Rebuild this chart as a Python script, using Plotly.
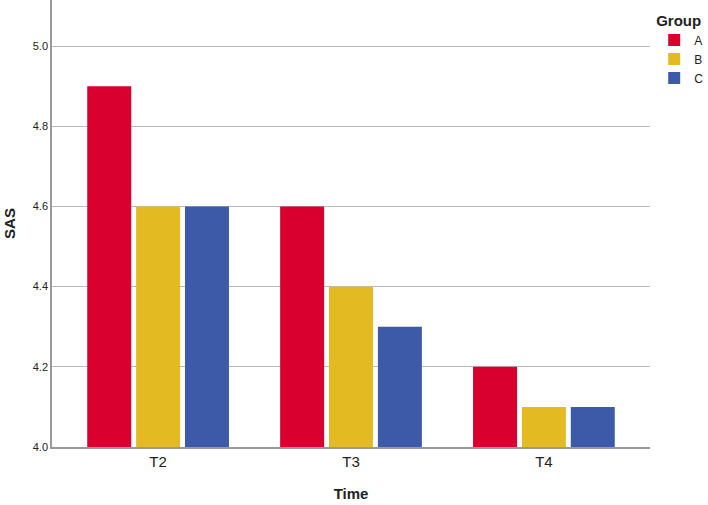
import plotly.graph_objects as go

times = ["T2", "T3", "T4"]
groups = ["A", "B", "C"]
values_a = [4.9, 4.6, 4.2]
values_b = [4.6, 4.4, 4.1]
values_c = [4.6, 4.3, 4.1]
colors = ["#D9002F", "#E3BA22", "#3D5AA9"]
y_ticks = [4.0, 4.2, 4.4, 4.6, 4.8, 5.0]

fig = go.Figure()
for name, vals, col in zip(groups, [values_a, values_b, values_c], colors):
    fig.add_trace(go.Bar(x=times, y=vals, name=name, marker=dict(color=col, line=dict(width=0))))

fig.update_layout(
    width=708, height=505,
    margin=dict(l=52, r=58, t=0, b=58),
    paper_bgcolor="white", plot_bgcolor="white",
    barmode="group", bargap=0.24, bargroupgap=0.1,
    font=dict(family="Arial, Liberation Sans, sans-serif", color="#222"),
    legend=dict(
        title=dict(text="<b>Group</b>", font=dict(size=15, color="#222")),
        xref="container", yref="container",
        x=0.924, xanchor="left", y=0.988, yanchor="top",
        font=dict(size=12), itemwidth=30, tracegroupgap=0,
        bgcolor="rgba(0,0,0,0)",
    ),
    xaxis=dict(
        range=[-0.55, 2.55],
        showline=True, linecolor="#999", linewidth=1.5,
        ticks="", tickfont=dict(size=15),
        title=dict(text="<b>Time</b>", font=dict(size=15), standoff=20),
        showgrid=False,
    ),
    yaxis=dict(
        range=[4.0, 5.115],
        tickvals=y_ticks, ticktext=[f"{v:.1f}" for v in y_ticks],
        showline=True, linecolor="#999", linewidth=1.5,
        showgrid=True, gridcolor="#BBBBBB", gridwidth=1,
        ticks="", tickfont=dict(size=11),
        title=dict(text="<b>SAS</b>", font=dict(size=15), standoff=14),
        zeroline=False,
    ),
)

fig.write_html(
    "out.html",
    config={"displayModeBar": False},
    post_script="document.body.style.margin='0';document.body.style.overflow='hidden';",
)
